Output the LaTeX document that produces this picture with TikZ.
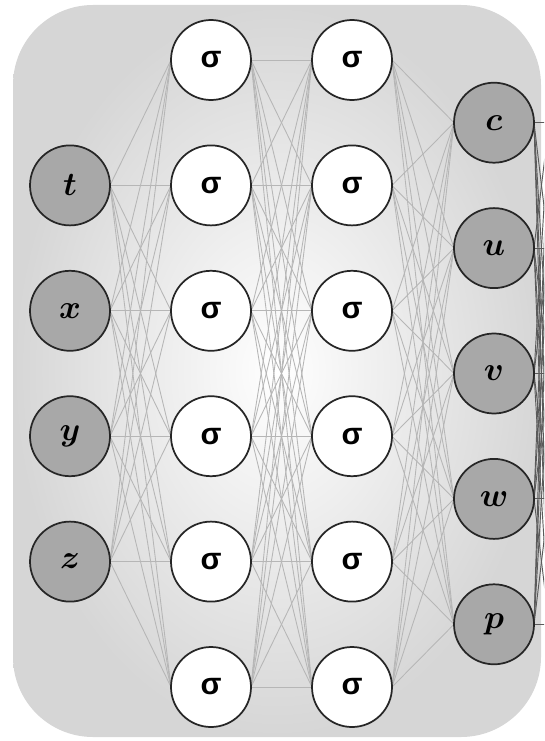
\documentclass[tikz,border=0pt]{standalone}
\usepackage{fontspec}
\newfontfamily\sigfont{Liberation Sans}
\definecolor{bggray}{RGB}{214,214,214}
\definecolor{nodegray}{RGB}{168,168,168}
\definecolor{edgegray}{RGB}{182,182,182}
\definecolor{outedge}{RGB}{90,90,90}
\tikzset{
  neuron/.style={circle, draw=black!85, line width=1.3pt, minimum size=60pt, inner sep=0pt},
  hid/.style={neuron, fill=white, font=\sigfont\bfseries\fontsize{23}{25}\selectfont},
  io/.style={neuron, fill=nodegray, font=\boldmath\fontsize{34}{36}\selectfont},
  link/.style={draw=edgegray, line width=0.65pt},
  outlink/.style={draw=outedge, line width=0.7pt}
}
\begin{document}
\begin{tikzpicture}[x=0.75pt,y=-0.75pt]
\useasboundingbox (0,0) rectangle (544,741);
\shade[inner color=white, outer color=bggray, rounded corners=60pt] (13,5) rectangle (541,737);
% centre coordinates
\coordinate (ct) at (70,185.4);
\coordinate (cx) at (70,310.8);
\coordinate (cy) at (70,436.2);
\coordinate (cz) at (70,561.6);
\foreach \i/\y in {1/60,2/185.4,3/310.8,4/436.2,5/561.6,6/687}{
  \coordinate (pa\i) at (211,\y);
  \coordinate (pb\i) at (352,\y);
}
\coordinate (cc) at (494,122.7);
\coordinate (cu) at (494,248.1);
\coordinate (cv) at (494,373.5);
\coordinate (cw) at (494,498.9);
\coordinate (cp) at (494,624.3);
\foreach \o/\y in {c/122.7,u/248.1,v/373.5,w/498.9,p/624.3}{
  \coordinate (r\o) at (549,\y);
}
% connections
\foreach \s in {t,x,y,z}{
  \foreach \j in {1,...,6}{
    \path[link] ([xshift=30pt]c\s) -- ([xshift=-30pt]pa\j);
  }
}
\foreach \i in {1,...,6}{
  \foreach \j in {1,...,6}{
    \path[link] ([xshift=30pt]pa\i) -- ([xshift=-30pt]pb\j);
  }
}
\foreach \i in {1,...,6}{
  \foreach \o in {c,u,v,w,p}{
    \path[link] ([xshift=30pt]pb\i) -- ([xshift=-30pt]c\o);
  }
}
\begin{scope}
\clip (0,0) rectangle (544,741);
\foreach \o in {c,u,v,w,p}{
  \foreach \q in {c,u,v,w,p}{
    \path[outlink] ([xshift=30pt]c\o) -- (r\q);
  }
}
\end{scope}
% nodes
\node[io] (t) at (ct) {$t$};
\node[io] (x) at (cx) {$x$};
\node[io] (y) at (cy) {$y$};
\node[io] (z) at (cz) {$z$};
\foreach \i in {1,...,6}{
  \node[hid] (a\i) at (pa\i) {σ};
  \node[hid] (b\i) at (pb\i) {σ};
}
\node[io] (c) at (cc) {$c$};
\node[io] (u) at (cu) {$u$};
\node[io] (v) at (cv) {$v$};
\node[io] (w) at (cw) {$w$};
\node[io] (p) at (cp) {$p$};
\end{tikzpicture}
\end{document}
